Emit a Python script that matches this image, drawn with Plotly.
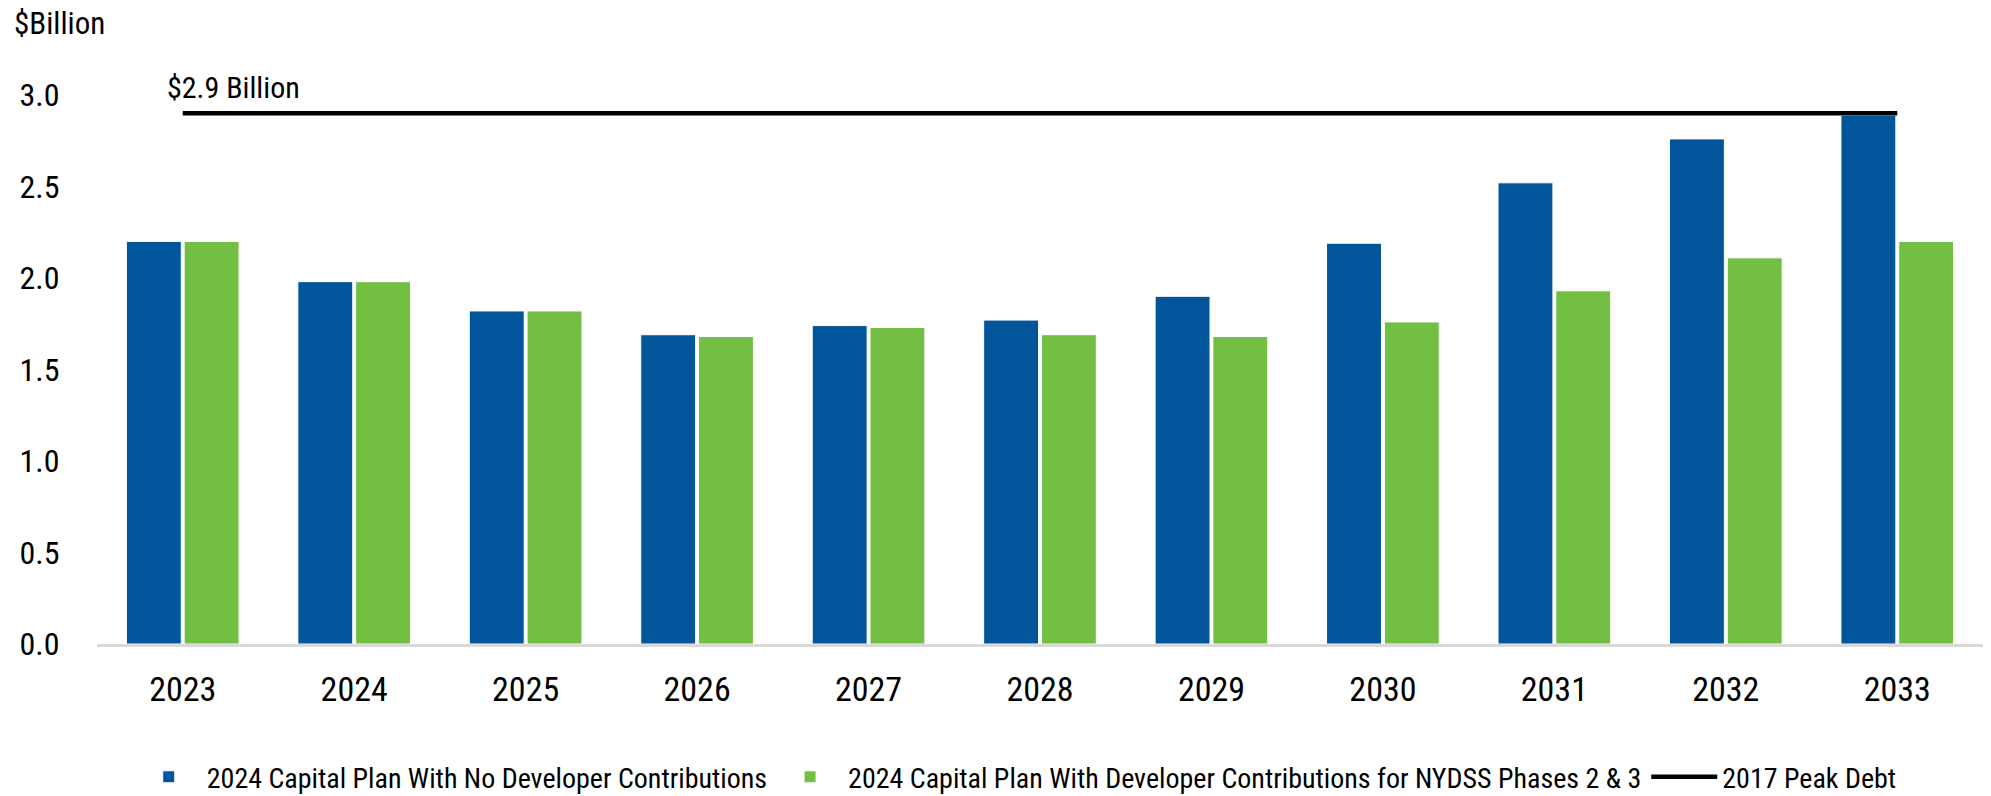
import plotly.graph_objects as go

years = ["2023", "2024", "2025", "2026", "2027", "2028", "2029", "2030", "2031", "2032", "2033"]
no_dev = [2.20, 1.98, 1.82, 1.69, 1.74, 1.77, 1.90, 2.19, 2.52, 2.76, 2.89]
with_dev = [2.20, 1.98, 1.82, 1.68, 1.73, 1.69, 1.68, 1.76, 1.93, 2.11, 2.20]
peak_debt = [2.9] * len(years)

BLUE = "#00559b"
GREEN = "#72bf44"
FONT = "Roboto Condensed, Liberation Sans Narrow, sans-serif"

fig = go.Figure()
fig.add_trace(go.Bar(
    x=years, y=no_dev, name="2024 Capital Plan With No Developer Contributions",
    marker=dict(color=BLUE, line=dict(color="white", width=1)),
))
fig.add_trace(go.Bar(
    x=years, y=with_dev, name="2024 Capital Plan With Developer Contributions for NYDSS Phases 2 & 3",
    marker=dict(color=GREEN, line=dict(color="white", width=1)),
))
fig.add_trace(go.Scatter(
    x=years, y=peak_debt, mode="lines", name="2017 Peak Debt",
    line=dict(color="black", width=4.5),
))

# x=0 is the category index of the first year (numeric-looking strings would be read as indices)
fig.add_annotation(
    x=0, y=peak_debt[0], text="$2.9 Billion", showarrow=False,
    xanchor="left", yanchor="bottom", xshift=-18, yshift=6,
    font=dict(size=30, color="black", family=FONT),
)
fig.add_annotation(
    x=0, y=1, xref="paper", yref="paper", text="$Billion", showarrow=False,
    xanchor="left", yanchor="bottom", xshift=-85, yshift=51,
    font=dict(size=31, color="black", family=FONT),
)

# page body has an 8px margin, so the figure is offset by 8px
fig.update_layout(
    width=1975, height=788,
    plot_bgcolor="white", paper_bgcolor="white",
    font=dict(family=FONT, color="black", size=28),
    margin=dict(l=89, r=0, t=87, b=152, autoexpand=False),
    barmode="group", bargap=0.326, bargroupgap=0.05,
    legend=dict(orientation="h", xref="container", x=0.5105, xanchor="center",
                yref="container", y=0.024, yanchor="middle",
                font=dict(size=28), itemwidth=66),
)
fig.update_xaxes(
    type="category", automargin=False,
    showgrid=False, showline=True, linecolor="#d9d9d9", linewidth=3,
    ticks="outside", ticklen=13, tickcolor="white",
    tickfont=dict(size=34, family=FONT),
)
fig.update_yaxes(
    range=[0, 3.0], dtick=0.5, tickformat=".1f", showgrid=False, zeroline=False,
    automargin=False, showline=False, ticks="outside", ticklen=30, tickcolor="white",
    tickfont=dict(size=32, family=FONT),
)

fig.write_html("out.html")
